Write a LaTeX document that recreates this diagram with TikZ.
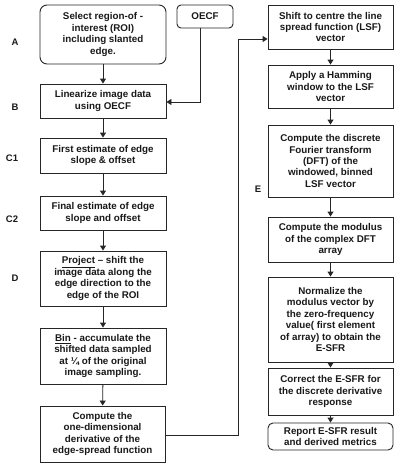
\documentclass[tikz,border=0pt]{standalone}
\usepackage{fontspec}
\setmainfont{Liberation Sans}
\usetikzlibrary{arrows.meta}
\begin{document}
\begin{tikzpicture}[x=1pt,y=-1pt,
  box/.style={draw=black!85,line width=0.9pt,align=center,inner sep=0pt,
    font=\fontsize{9.8}{11.4}\selectfont\bfseries,text=black!90,
    minimum width=126pt},
  rbox/.style={box,rounded corners=7pt},
  lab/.style={font=\fontsize{9.5}{11}\selectfont\bfseries,text=black!90},
  arr/.style={draw=black!85,line width=0.9pt,-{Triangle[width=6pt,length=5pt]}},
  line/.style={draw=black!85,line width=0.9pt}]
\useasboundingbox (0,0) rectangle (408,469);
\fill[white] (0,0) rectangle (408,469);
% left column
\node[rbox,minimum height=59pt] (A) at (103,34.5) {Select region-of -\\interest (ROI)\\including slanted\\edge.};
\node[box,rounded corners=4pt,minimum width=56pt,minimum height=23pt] (O) at (205,16.5) {OECF};
\node[box,minimum height=34pt] (B) at (103,101) {Linearize image data\\using OECF};
\node[box,minimum height=35pt] (C1) at (103,155.5) {First estimate of edge\\slope \& offset};
\node[box,minimum height=34pt] (C2) at (103,213) {Final estimate of edge\\slope and offset};
\node[box,minimum height=55pt] (D) at (103,278.5) {\underline{Project} -- shift the\\image data along the\\edge direction to the\\edge of the ROI};
\node[box,minimum height=56pt] (Bi) at (103,356) {\underline{Bin} - accumulate the\\shifted data sampled\\at ¼ of the original\\image sampling.};
\node[box,minimum width=125pt,minimum height=56pt] (Cp) at (102.5,434) {Compute the\\one-dimensional\\derivative of the\\edge-spread function};
% right column
\node[box,minimum width=125pt,minimum height=44pt] (S) at (330.5,27) {Shift to centre the line\\spread function (LSF)\\vector};
\node[box,minimum width=125pt,minimum height=43pt] (H) at (330.5,86.5) {Apply a Hamming\\window to the LSF\\vector};
\node[box,minimum width=125pt,minimum height=72pt] (F) at (330.5,161) {Compute the discrete\\Fourier transform\\(DFT) of the\\windowed, binned\\LSF vector};
\node[box,minimum width=125pt,minimum height=45pt] (M) at (330.5,239.5) {Compute the modulus\\of the complex DFT\\array};
\node[box,minimum width=125pt,minimum height=85pt] (N) at (330.5,319.5) {Normalize the\\modulus vector by\\the zero-frequency\\value( first element\\of array) to obtain the\\E-SFR};
\node[box,minimum width=125pt,minimum height=47pt] (R) at (330.5,391.5) {Correct the E-SFR for\\the discrete derivative\\response};
\node[box,rounded corners=5pt,minimum width=125pt,minimum height=27pt] (P) at (330.5,436.5) {Report E-SFR result\\and derived metrics};
% labels
\node[lab] (lA) at (15,42) {A};
\node[lab] (lB) at (15,107) {B};
\node[lab] (lC1) at (12,158) {C1};
\node[lab] (lC2) at (12,219) {C2};
\node[lab] (lD) at (15,278) {D};
\node[lab] (lE) at (258,189) {E};
% arrows
\draw[arr] (A) -- (B);
\draw[arr] (B) -- (C1);
\draw[arr] (C1) -- (C2);
\draw[arr] (C2) -- (D);
\draw[arr] (D) -- (Bi);
\draw[arr] (Bi) -- (Cp);
\draw[arr] (S) -- (H);
\draw[arr] (H) -- (F);
\draw[arr] (F) -- (M);
\draw[arr] (M) -- (N);
\draw[arr] (N) -- (R);
\draw[arr] (R) -- (P);
\coordinate (o1) at (200,102);
\draw[arr] (O.south -| o1) -- (o1) -- (B.east |- o1);
\coordinate (k1) at (238,435);
\coordinate (k2) at (238,39);
\draw[arr] (Cp.east |- k1) -- (k1) -- (k2) -- (S.west |- k2);
\end{tikzpicture}
\end{document}
